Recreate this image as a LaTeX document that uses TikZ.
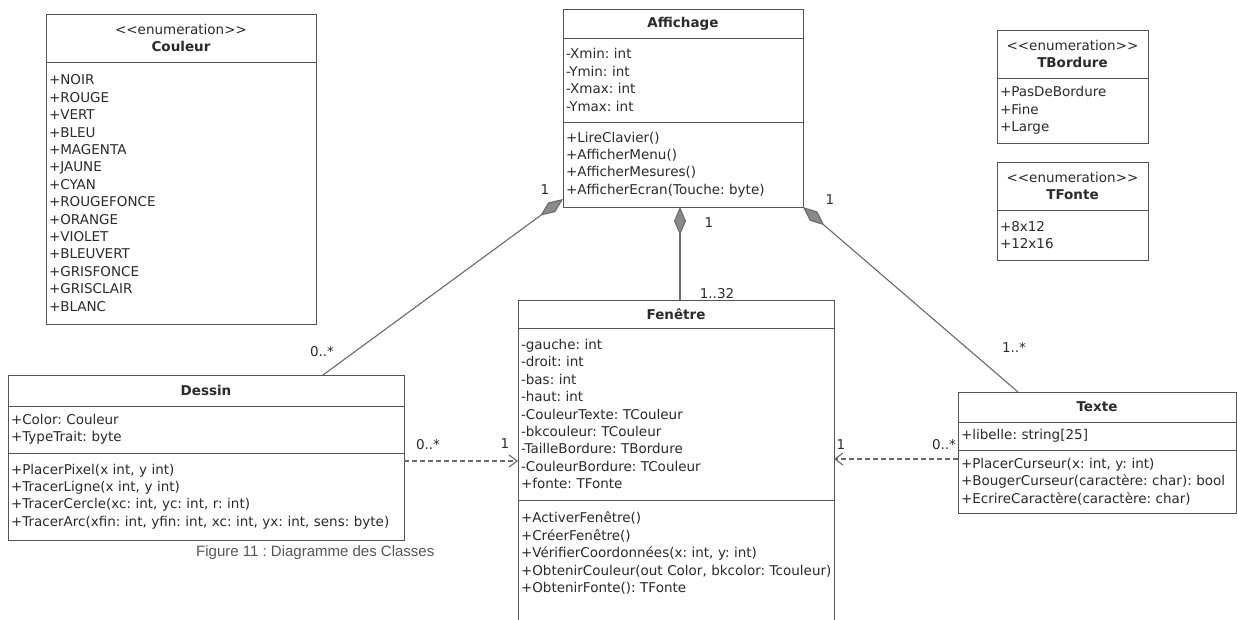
\documentclass[tikz,border=0pt]{standalone}
\usepackage{fontspec}
\setmainfont{DejaVu Sans}
\newfontfamily\legende{Liberation Sans}
\usetikzlibrary{positioning,arrows.meta}

\definecolor{trait}{HTML}{555555}
\definecolor{lien}{HTML}{6A6A6A}
\definecolor{encre}{HTML}{2B2B2B}
\definecolor{losange}{HTML}{8A8A8A}

\frenchspacing
\hyphenpenalty=10000
\exhyphenpenalty=10000

\newcommand{\enumstereo}{<\kern0pt<enumeration>\kern0pt>}

\tikzset{
  compart/.style={draw=trait, line width=0.9pt, outer sep=0pt, inner xsep=3pt, inner ysep=3pt,
    text=encre, font=\fontsize{13.5}{17.4}\selectfont, text width=#1, align=left},
  titre/.style={compart=#1, align=center},
  mult/.style={text=encre, font=\fontsize{13.5}{17.4}\selectfont, inner sep=0pt},
  compo/.style={draw=lien, line width=1.1pt, -{Diamond[length=28pt,width=12pt,fill=losange]}},
  dependance/.style={draw=lien, line width=1.1pt, dash pattern=on 5pt off 3pt,
    -{Straight Barb[length=8pt,width=12pt]}}
}

\begin{document}
\begin{tikzpicture}[x=1pt,y=-1pt]
  \useasboundingbox (0,0) rectangle (1237,619);
  \fill[white] (0,0) rectangle (1237,619);

  \node[titre=264pt, minimum height=48pt, anchor=north west] (coult) at (46,14)
    {\enumstereo\\\textbf{Couleur}};
  \node[compart=264pt, minimum height=262pt, below=0pt of coult] (coulv)
    {+NOIR\\+ROUGE\\+VERT\\+BLEU\\+MAGENTA\\+JAUNE\\+CYAN\\+ROUGEFONCE\\+ORANGE\\+VIOLET\\+BLEUVERT\\+GRISFONCE\\+GRISCLAIR\\+BLANC};

  \node[titre=234pt, minimum height=29pt, anchor=north west] (afft) at (563,9) {\textbf{Affichage}};
  \node[compart=234pt, minimum height=84pt, below=0pt of afft] (affa)
    {-Xmin: int\\-Ymin: int\\-Xmax: int\\-Ymax: int};
  \node[compart=234pt, minimum height=85pt, below=0pt of affa] (affm)
    {+LireClavier()\\+AfficherMenu()\\+AfficherMesures()\\+AfficherEcran(Touche: byte)};

  \node[titre=145pt, minimum height=48pt, anchor=north west] (bordt) at (997,30)
    {\enumstereo\\\textbf{TBordure}};
  \node[compart=145pt, minimum height=65pt, below=0pt of bordt] (bordv)
    {+PasDeBordure\\+Fine\\+Large};

  \node[titre=145pt, minimum height=48pt, anchor=north west] (fontt) at (997,162)
    {\enumstereo\\\textbf{TFonte}};
  \node[compart=145pt, minimum height=50pt, below=0pt of fontt] (fontv)
    {+8x12\\+12x16};

  \node[titre=390pt, minimum height=31pt, anchor=north west] (dest) at (8,375) {\textbf{Dessin}};
  \node[compart=390pt, minimum height=47pt, below=0pt of dest] (desa)
    {+Color: Couleur\\+TypeTrait: byte};
  \node[compart=390pt, minimum height=87pt, below=0pt of desa] (desm)
    {+PlacerPixel(x int, y int)\\+TracerLigne(x int, y int)\\+TracerCercle(xc: int, yc: int, r: int)\\+TracerArc(xfin:~int,~yfin:~int,~xc:~int,~yx:~int,~sens:~byte)};

  \node[titre=310pt, minimum height=28pt, anchor=north west] (fent) at (518,300) {\textbf{Fenêtre}};
  \node[compart=310pt, minimum height=172pt, below=0pt of fent] (fena)
    {-gauche: int\\-droit: int\\-bas: int\\-haut: int\\-CouleurTexte: TCouleur\\-bkcouleur: TCouleur\\-TailleBordure: TBordure\\-CouleurBordure: TCouleur\\+fonte: TFonte};
  \node[compart=310pt, inner ysep=12pt, below=0pt of fena] (fenm)
    {+ActiverFenêtre()\\+CréerFenêtre()\\+VérifierCoordonnées(x: int, y: int)\\\mbox{+ObtenirCouleur(out Color, bkcolor: Tcouleur)}\\+ObtenirFonte(): TFonte\par\vspace*{30pt}};

  \node[titre=272pt, minimum height=30pt, anchor=north west] (text) at (958,392) {\textbf{Texte}};
  \node[compart=272pt, minimum height=28pt, below=0pt of text] (texa)
    {+libelle: string[25]};
  \node[compart=272pt, minimum height=63pt, below=0pt of texa] (texm)
    {+PlacerCurseur(x: int, y: int)\\+BougerCurseur(caractère: char): bool\\+EcrireCaractère(caractère: char)};

  \coordinate (des-haut) at ([xshift=315pt]dest.north west);
  \coordinate (fen-haut) at ([xshift=162pt]fent.north west);
  \coordinate (tex-haut) at ([xshift=60pt]text.north west);
  \draw[compo] (des-haut) -- ([yshift=8pt]affm.south west);
  \draw[compo] (fen-haut) -- (fen-haut |- affm.south);
  \draw[compo] (tex-haut) -- (affm.south east);

  \coordinate (dep-des) at ([yshift=-8pt]desm.north east);
  \coordinate (dep-tex) at ([yshift=-9pt]texm.north west);
  \draw[dependance] (dep-des) -- (dep-des -| fena.west);
  \draw[dependance] (dep-tex) -- (dep-tex -| fena.east);

  \node[mult] (m1) at (545,190) {1};
  \node[mult] (m2) at (322,352) {0..*};
  \node[mult] (m3) at (709,223) {1};
  \node[mult] (m4) at (717,294) {1..32};
  \node[mult] (m5) at (830,200) {1};
  \node[mult] (m6) at (1014,347) {1..*};
  \node[mult] (m7) at (428,445) {0..*};
  \node[mult] (m8) at (505,444) {1};
  \node[mult] (m9) at (841,445) {1};
  \node[mult] (m10) at (944,445) {0..*};

  \node[font=\legende\fontsize{15}{18}\selectfont, text=black!66, anchor=west, inner sep=0pt]
    (legende) at (196,553) {Figure 11 : Diagramme des Classes};
\end{tikzpicture}
\end{document}
